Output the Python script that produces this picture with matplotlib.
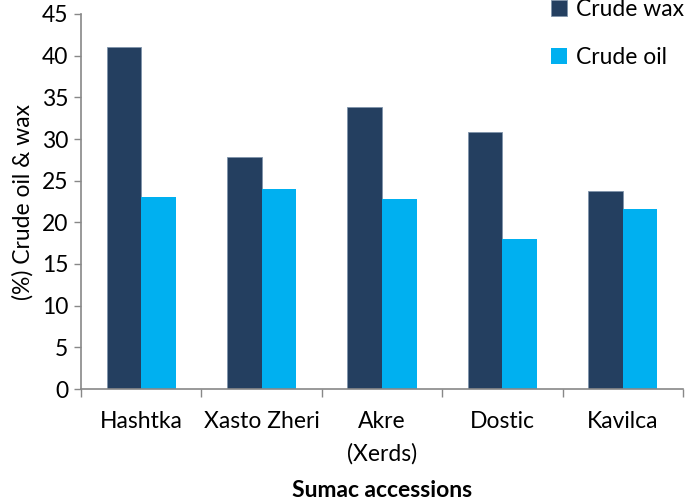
import matplotlib
matplotlib.use('Agg')
import matplotlib.pyplot as plt
import numpy as np

accessions = ["Hashtka", "Xasto Zheri", "Akre\n(Xerds)", "Dostic", "Kavilca"]
crude_wax = [41.0, 27.8, 33.9, 30.8, 23.8]
crude_oil = [23.0, 24.0, 22.8, 18.0, 21.6]
yticks = [0, 5, 10, 15, 20, 25, 30, 35, 40, 45]

plt.rcParams['font.family'] = ['Lato', 'DejaVu Sans']
FS = 16.5

fig = plt.figure(figsize=(6.85, 5.04), dpi=100)
ax = fig.add_axes([81 / 685, 1 - 389 / 504, 602 / 685, 375 / 504])

x = np.arange(len(accessions))
w = 0.287
ax.bar(x - w / 2, crude_wax, w, color="#243F60", edgecolor="#8094ab",
       linewidth=0.6, label="Crude wax")
ax.bar(x + w / 2, crude_oil, w, color="#00B0F0", label="Crude oil")

ax.set_xlim(-0.5, len(accessions) - 0.5)
ax.set_ylim(0, 45)
ax.set_yticks(yticks)
ax.tick_params(axis='y', labelsize=FS, length=5, color="#888888", width=1, pad=4)

ax.set_xticks(x)
ax.set_xticklabels(accessions, fontsize=FS, linespacing=1.6)
ax.tick_params(axis='x', length=0, pad=16)
ax.set_xticks(np.arange(len(accessions) + 1) - 0.5, minor=True)
ax.tick_params(axis='x', which='minor', length=6, color="#888888", width=1)

for s in ["top", "right"]:
    ax.spines[s].set_visible(False)
for s in ["left", "bottom"]:
    ax.spines[s].set_color("#888888")
    ax.spines[s].set_linewidth(1.2)

ax.set_ylabel("(%) Crude oil & wax", fontsize=FS, labelpad=6)
ax.set_xlabel("Sumac accessions", fontsize=FS, fontweight='bold', labelpad=11)

ax.legend(loc="upper left", bbox_to_anchor=(0.765, 1.065), frameon=False,
          fontsize=FS, handlelength=0.7, handleheight=0.7,
          handletextpad=0.4, labelspacing=1.2, borderaxespad=0)

fig.savefig("out.png", dpi=100)
